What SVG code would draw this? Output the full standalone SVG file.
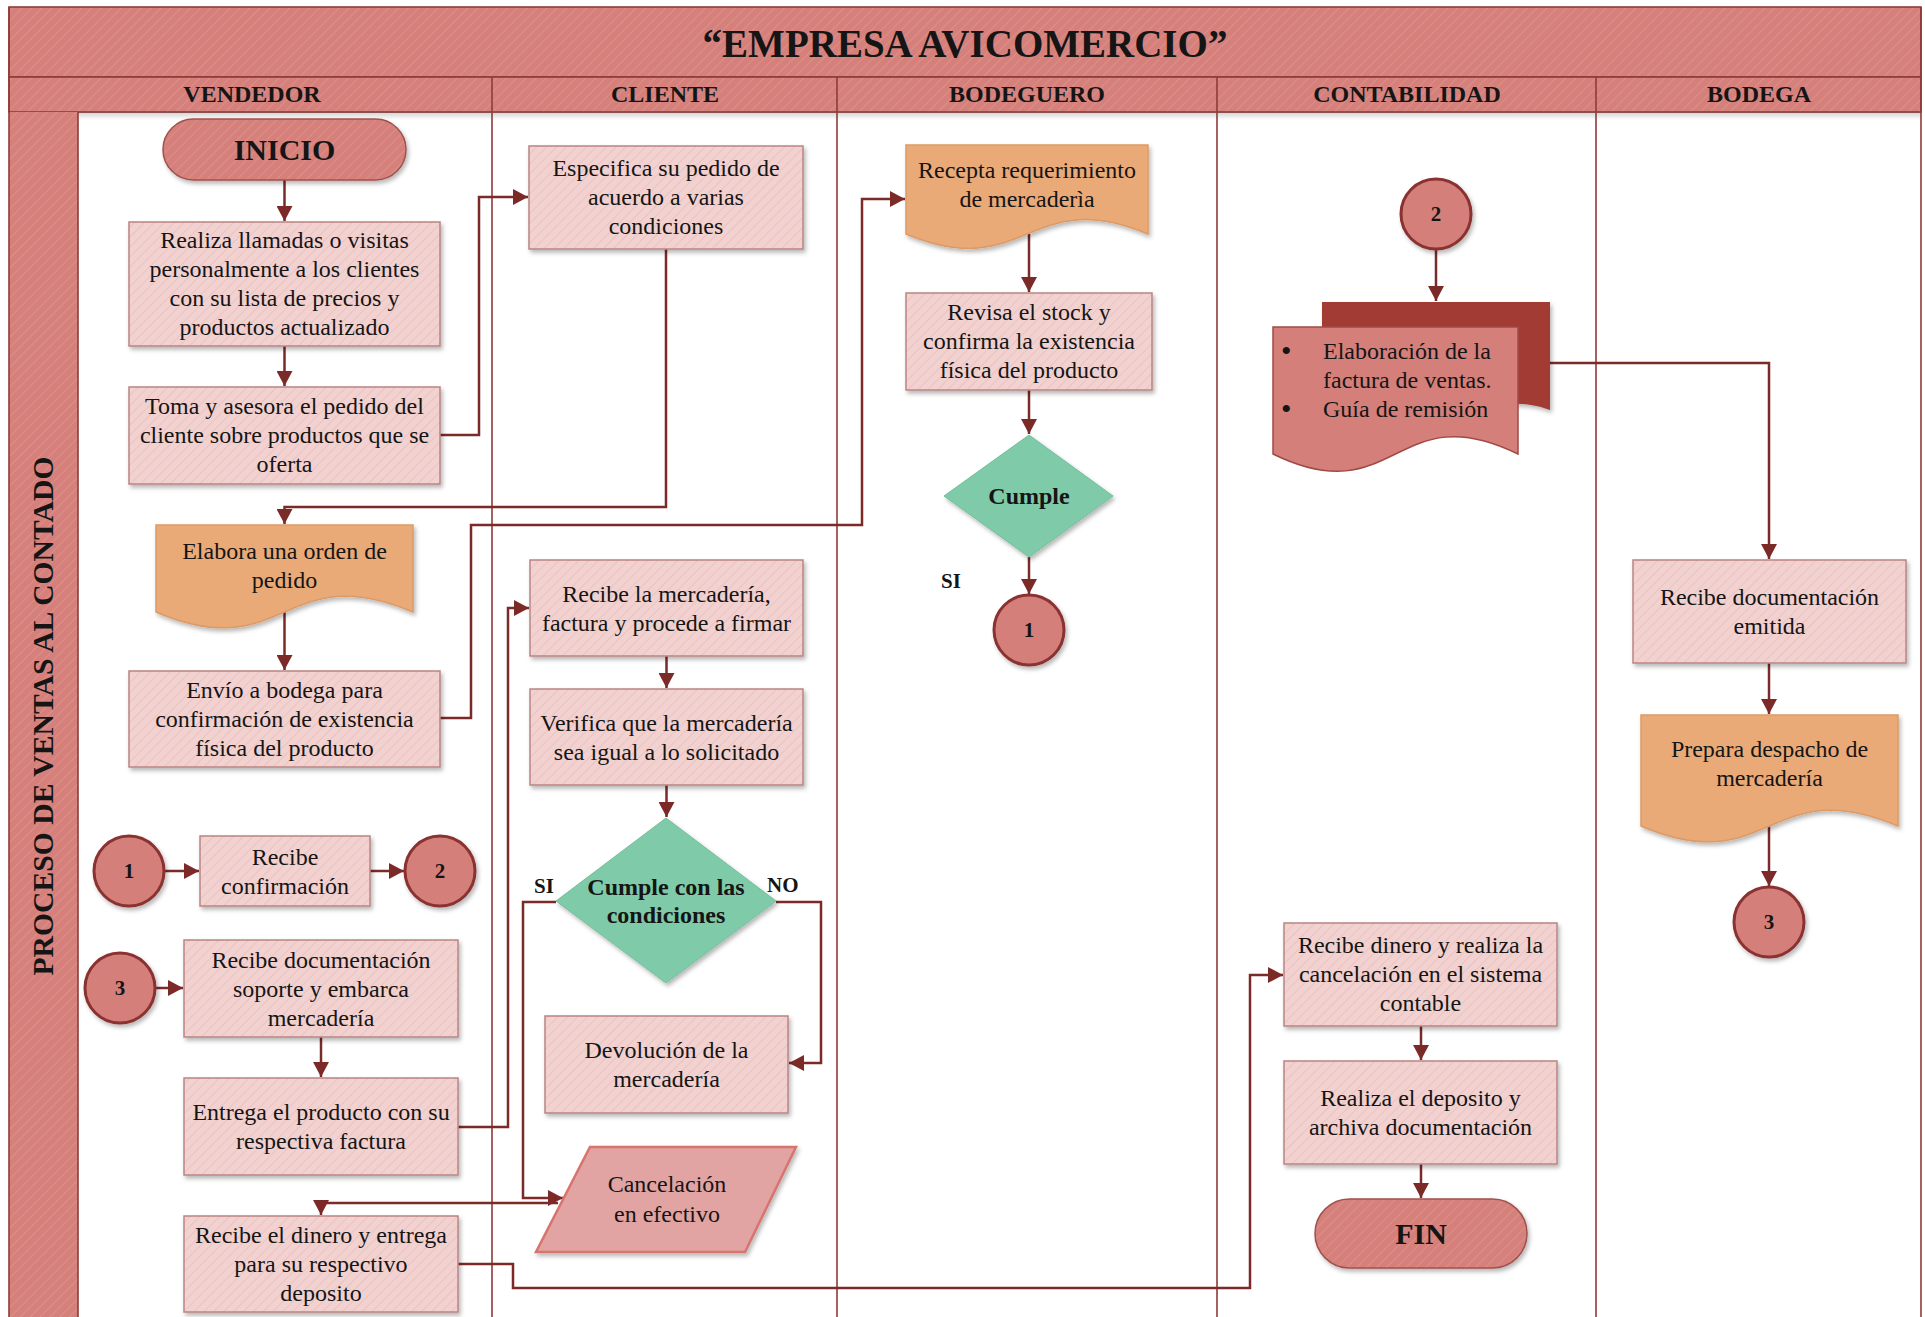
<svg xmlns="http://www.w3.org/2000/svg" width="1925" height="1317" viewBox="0 0 1925 1317">
  <defs>
    <!-- diagonal hatch used by the headers and the dark-pink shapes -->
    <pattern id="hatchRed" width="7" height="7" patternUnits="userSpaceOnUse" patternTransform="rotate(45)">
      <rect width="7" height="7" fill="#d6807b"/>
      <line x1="0" y1="0" x2="0" y2="7" stroke="#dc8f8a" stroke-width="2"/>
    </pattern>
    <!-- lighter hatch for the process boxes -->
    <pattern id="hatchPink" width="7" height="7" patternUnits="userSpaceOnUse" patternTransform="rotate(45)">
      <rect width="7" height="7" fill="#f2d2d0"/>
      <line x1="0" y1="0" x2="0" y2="7" stroke="#ebc2bf" stroke-width="2"/>
    </pattern>
    <linearGradient id="headShade" x1="0" y1="0" x2="0" y2="1">
      <stop offset="0" stop-color="#000" stop-opacity="0.18"/>
      <stop offset="1" stop-color="#000" stop-opacity="0"/>
    </linearGradient>
    <filter id="shadow" x="-10%" y="-10%" width="125%" height="130%">
      <feDropShadow dx="2" dy="3" stdDeviation="2" flood-color="#000" flood-opacity="0.28"/>
    </filter>
    <marker id="arrow" markerUnits="userSpaceOnUse" markerWidth="16" markerHeight="16" viewBox="0 0 16 16" refX="15" refY="8" orient="auto">
      <path d="M0,0 L15,8 L0,16 Z" fill="#7b2a28"/>
    </marker>
    <style>
      text { font-family: "Liberation Serif", "Times New Roman", serif; fill: #151515; }
      .title { font-size: 39px; font-weight: bold; text-anchor: middle; }
      .lane { font-size: 24px; font-weight: bold; text-anchor: middle; }
      .band { font-size: 30px; font-weight: bold; text-anchor: middle; }
      .t { font-size: 24px; text-anchor: middle; }
      .ts { font-size: 24px; text-anchor: start; }
      .bul { font-size: 30px; text-anchor: start; }
      .tb { font-size: 24px; font-weight: bold; text-anchor: middle; }
      .term { font-size: 30px; font-weight: bold; text-anchor: middle; }
      .num { font-size: 21px; font-weight: bold; text-anchor: middle; }
      .lbl { font-size: 21px; font-weight: bold; }
      .lanes line { stroke: #8e3b38; stroke-width: 1.6; }
      .box { fill: url(#hatchPink); stroke: #b98582; stroke-width: 1.5; filter: url(#shadow); }
      .doc { fill: #e9aa78; stroke: #dc9a66; stroke-width: 1.5; filter: url(#shadow); }
      .dec { fill: #7fcaa8; stroke: #74bf9d; stroke-width: 1; filter: url(#shadow); }
      .circ { fill: #d47f7a; stroke: #8a3230; stroke-width: 3; filter: url(#shadow); }
      .terminal { fill: url(#hatchRed); stroke: #a2504c; stroke-width: 1.5; filter: url(#shadow); }
      .conn path { fill: none; stroke: #7b2a28; stroke-width: 2.5; marker-end: url(#arrow); }
    </style>
  </defs>

  <rect width="1925" height="1317" fill="#ffffff"/>

  <!-- swimlane frame -->
  <g id="frame">
    <rect x="9" y="7" width="1912" height="70" fill="url(#hatchRed)" stroke="#8e3b38" stroke-width="1.6"/>
    <rect x="9" y="77" width="1912" height="35" fill="url(#hatchRed)" stroke="#8e3b38" stroke-width="1.6"/>
    <rect x="9" y="112" width="1912" height="8" fill="url(#headShade)"/>
    <rect x="9" y="112" width="69" height="1205" fill="url(#hatchRed)"/>
    <g class="lanes">
      <line x1="9" y1="7" x2="9" y2="1317"/>
      <line x1="78" y1="112" x2="78" y2="1317"/>
      <line x1="492" y1="77" x2="492" y2="1317"/>
      <line x1="837" y1="77" x2="837" y2="1317"/>
      <line x1="1217" y1="77" x2="1217" y2="1317"/>
      <line x1="1596" y1="77" x2="1596" y2="1317"/>
      <line x1="1921" y1="7" x2="1921" y2="1317"/>
    </g>
    <text class="title" x="965" y="57">“EMPRESA AVICOMERCIO”</text>
    <text class="lane" x="252" y="102">VENDEDOR</text>
    <text class="lane" x="665" y="102">CLIENTE</text>
    <text class="lane" x="1027" y="102">BODEGUERO</text>
    <text class="lane" x="1407" y="102">CONTABILIDAD</text>
    <text class="lane" x="1759" y="102">BODEGA</text>
    <text class="band" x="53" y="716" transform="rotate(-90 53 716)" textLength="519" lengthAdjust="spacingAndGlyphs">PROCESO DE VENTAS AL CONTADO</text>
  </g>

  <!-- connectors -->
  <g id="connectors" class="conn">
    <path d="M284.5,180 V221"/>
    <path d="M284.5,346 V386"/>
    <path d="M440,435 H479 V197 H528"/>
    <path d="M666,249 V507 H284.5 V524"/>
    <path d="M284.5,612 V670"/>
    <path d="M440,718 H471 V525 H862 V199 H905"/>
    <path d="M1029,234 V292"/>
    <path d="M1029,390 V434"/>
    <path d="M1029,557 V594"/>
    <path d="M164,871 H199"/>
    <path d="M370,871 H404"/>
    <path d="M155,988 H183"/>
    <path d="M321,1037 V1077"/>
    <path d="M458,1127 H508 V608 H529"/>
    <path d="M666.5,656 V688"/>
    <path d="M666.5,785 V817"/>
    <path d="M556,902 H523 V1198 H563"/>
    <path d="M776,902 H821 V1063 H789"/>
    <path d="M558,1203 H321 V1215"/>
    <path d="M458,1264 H513 V1288 H1250 V975 H1283"/>
    <path d="M1436,249 V301"/>
    <path d="M1550,363 H1769 V559"/>
    <path d="M1769,663 V714"/>
    <path d="M1769,826 V886"/>
    <path d="M1421,1026 V1060"/>
    <path d="M1421,1164 V1198"/>
  </g>

  <!-- VENDEDOR lane -->
  <g id="inicio">
    <rect class="terminal" x="163" y="119" width="243" height="61" rx="30.5"/>
    <text class="term" x="284.5" y="160">INICIO</text>
  </g>
  <g id="realiza-llamadas">
    <rect class="box" x="129" y="222" width="311" height="124"/>
    <text class="t" x="284.5" y="248"><tspan x="284.5">Realiza llamadas o visitas</tspan><tspan x="284.5" dy="29">personalmente a los clientes</tspan><tspan x="284.5" dy="29">con su lista de precios y</tspan><tspan x="284.5" dy="29">productos actualizado</tspan></text>
  </g>
  <g id="toma-pedido">
    <rect class="box" x="129" y="387" width="311" height="97"/>
    <text class="t" x="284.5" y="414"><tspan x="284.5">Toma y asesora el pedido del</tspan><tspan x="284.5" dy="29">cliente sobre productos que se</tspan><tspan x="284.5" dy="29">oferta</tspan></text>
  </g>
  <g id="orden-pedido">
    <path class="doc" d="M156,525 H413 V612 C284.5,557 284.5,667 156,612 Z"/>
    <text class="t" x="284.5" y="559"><tspan x="284.5">Elabora una orden de</tspan><tspan x="284.5" dy="29">pedido</tspan></text>
  </g>
  <g id="envio-bodega">
    <rect class="box" x="129" y="671" width="311" height="96"/>
    <text class="t" x="284.5" y="698"><tspan x="284.5">Envío a bodega para</tspan><tspan x="284.5" dy="29">confirmación de existencia</tspan><tspan x="284.5" dy="29">física del producto</tspan></text>
  </g>
  <g id="conector-1-vendedor">
    <circle class="circ" cx="129" cy="871" r="35"/>
    <text class="num" x="129" y="878">1</text>
  </g>
  <g id="recibe-confirmacion">
    <rect class="box" x="200" y="836" width="170" height="70"/>
    <text class="t" x="285" y="865"><tspan x="285">Recibe</tspan><tspan x="285" dy="29">confirmación</tspan></text>
  </g>
  <g id="conector-2-vendedor">
    <circle class="circ" cx="440" cy="871" r="35"/>
    <text class="num" x="440" y="878">2</text>
  </g>
  <g id="conector-3-vendedor">
    <circle class="circ" cx="120" cy="988" r="35"/>
    <text class="num" x="120" y="995">3</text>
  </g>
  <g id="recibe-documentacion-soporte">
    <rect class="box" x="184" y="940" width="274" height="97"/>
    <text class="t" x="321" y="968"><tspan x="321">Recibe documentación</tspan><tspan x="321" dy="29">soporte y embarca</tspan><tspan x="321" dy="29">mercadería</tspan></text>
  </g>
  <g id="entrega-producto">
    <rect class="box" x="184" y="1078" width="274" height="97"/>
    <text class="t" x="321" y="1120"><tspan x="321">Entrega el producto con su</tspan><tspan x="321" dy="29">respectiva factura</tspan></text>
  </g>
  <g id="recibe-dinero-vendedor">
    <rect class="box" x="184" y="1216" width="274" height="96"/>
    <text class="t" x="321" y="1243"><tspan x="321">Recibe el dinero y entrega</tspan><tspan x="321" dy="29">para su respectivo</tspan><tspan x="321" dy="29">deposito</tspan></text>
  </g>

  <!-- CLIENTE lane -->
  <g id="especifica-pedido">
    <rect class="box" x="529" y="146" width="274" height="103"/>
    <text class="t" x="666" y="176"><tspan x="666">Especifica su pedido de</tspan><tspan x="666" dy="29">acuerdo a varias</tspan><tspan x="666" dy="29">condiciones</tspan></text>
  </g>
  <g id="recibe-mercaderia">
    <rect class="box" x="530" y="560" width="273" height="96"/>
    <text class="t" x="666.5" y="602"><tspan x="666.5">Recibe la mercadería,</tspan><tspan x="666.5" dy="29">factura y procede a firmar</tspan></text>
  </g>
  <g id="verifica-mercaderia">
    <rect class="box" x="530" y="689" width="273" height="96"/>
    <text class="t" x="666.5" y="731"><tspan x="666.5">Verifica que la mercadería</tspan><tspan x="666.5" dy="29">sea igual a lo solicitado</tspan></text>
  </g>
  <g id="cumple-condiciones">
    <polygon class="dec" points="666,818 776,901 666,983 556,901"/>
    <text class="tb" x="666" y="895"><tspan x="666">Cumple con las</tspan><tspan x="666" dy="28">condiciones</tspan></text>
    <text class="lbl" x="534" y="893">SI</text>
    <text class="lbl" x="767" y="892">NO</text>
  </g>
  <g id="devolucion">
    <rect class="box" x="545" y="1016" width="243" height="97"/>
    <text class="t" x="666.5" y="1058"><tspan x="666.5">Devolución de la</tspan><tspan x="666.5" dy="29">mercadería</tspan></text>
  </g>
  <g id="cancelacion-efectivo">
    <polygon points="590,1147 796,1147 745,1252 536,1252" fill="#e2a4a2" stroke="#d8736e" stroke-width="2.5" filter="url(#shadow)"/>
    <text class="t" x="667" y="1192"><tspan x="667">Cancelación</tspan><tspan x="667" dy="30">en efectivo</tspan></text>
  </g>

  <!-- BODEGUERO lane -->
  <g id="recepta-requerimiento">
    <path class="doc" d="M906,145 H1148 V234 C1027,184 1027,284 906,234 Z"/>
    <text class="t" x="1027" y="178"><tspan x="1027">Recepta requerimiento</tspan><tspan x="1027" dy="29">de mercaderìa</tspan></text>
  </g>
  <g id="revisa-stock">
    <rect class="box" x="906" y="293" width="246" height="97"/>
    <text class="t" x="1029" y="320"><tspan x="1029">Revisa el stock y</tspan><tspan x="1029" dy="29">confirma la existencia</tspan><tspan x="1029" dy="29">física del producto</tspan></text>
  </g>
  <g id="cumple">
    <polygon class="dec" points="1029,435 1113,496 1029,557 944,496"/>
    <text class="tb" x="1029" y="504">Cumple</text>
    <text class="lbl" x="941" y="588">SI</text>
  </g>
  <g id="conector-1-bodeguero">
    <circle class="circ" cx="1029" cy="630" r="35"/>
    <text class="num" x="1029" y="637">1</text>
  </g>

  <!-- CONTABILIDAD lane -->
  <g id="conector-2-contabilidad">
    <circle class="circ" cx="1436" cy="214" r="35"/>
    <text class="num" x="1436" y="221">2</text>
  </g>
  <g id="factura-guia">
    <path d="M1322,302 H1550 V410 C1480,385 1440,445 1322,432 Z" fill="#a33a35" filter="url(#shadow)"/>
    <path d="M1273,327 H1518 V454 C1395.5,394 1395.5,514 1273,454 Z" fill="#d47f7a" stroke="#a04a46" stroke-width="1.5"/>
    <text class="bul" x="1281" y="361">•</text>
    <text class="ts" x="1323" y="359">Elaboración de la</text>
    <text class="ts" x="1323" y="388">factura de ventas.</text>
    <text class="bul" x="1281" y="419">•</text>
    <text class="ts" x="1323" y="417">Guía de remisión</text>
  </g>
  <g id="recibe-dinero-contabilidad">
    <rect class="box" x="1284" y="923" width="273" height="103"/>
    <text class="t" x="1420.5" y="953"><tspan x="1420.5">Recibe dinero y realiza la</tspan><tspan x="1420.5" dy="29">cancelación en el sistema</tspan><tspan x="1420.5" dy="29">contable</tspan></text>
  </g>
  <g id="realiza-deposito">
    <rect class="box" x="1284" y="1061" width="273" height="103"/>
    <text class="t" x="1420.5" y="1106"><tspan x="1420.5">Realiza el deposito y</tspan><tspan x="1420.5" dy="29">archiva documentación</tspan></text>
  </g>
  <g id="fin">
    <rect class="terminal" x="1315" y="1199" width="212" height="69" rx="34.5"/>
    <text class="term" x="1421" y="1244">FIN</text>
  </g>

  <!-- BODEGA lane -->
  <g id="recibe-documentacion-emitida">
    <rect class="box" x="1633" y="560" width="273" height="103"/>
    <text class="t" x="1769.5" y="605"><tspan x="1769.5">Recibe documentación</tspan><tspan x="1769.5" dy="29">emitida</tspan></text>
  </g>
  <g id="prepara-despacho">
    <path class="doc" d="M1641,715 H1898 V826 C1769.5,771 1769.5,881 1641,826 Z"/>
    <text class="t" x="1769.5" y="757"><tspan x="1769.5">Prepara despacho de</tspan><tspan x="1769.5" dy="29">mercadería</tspan></text>
  </g>
  <g id="conector-3-bodega">
    <circle class="circ" cx="1769" cy="922" r="35"/>
    <text class="num" x="1769" y="929">3</text>
  </g>
</svg>
